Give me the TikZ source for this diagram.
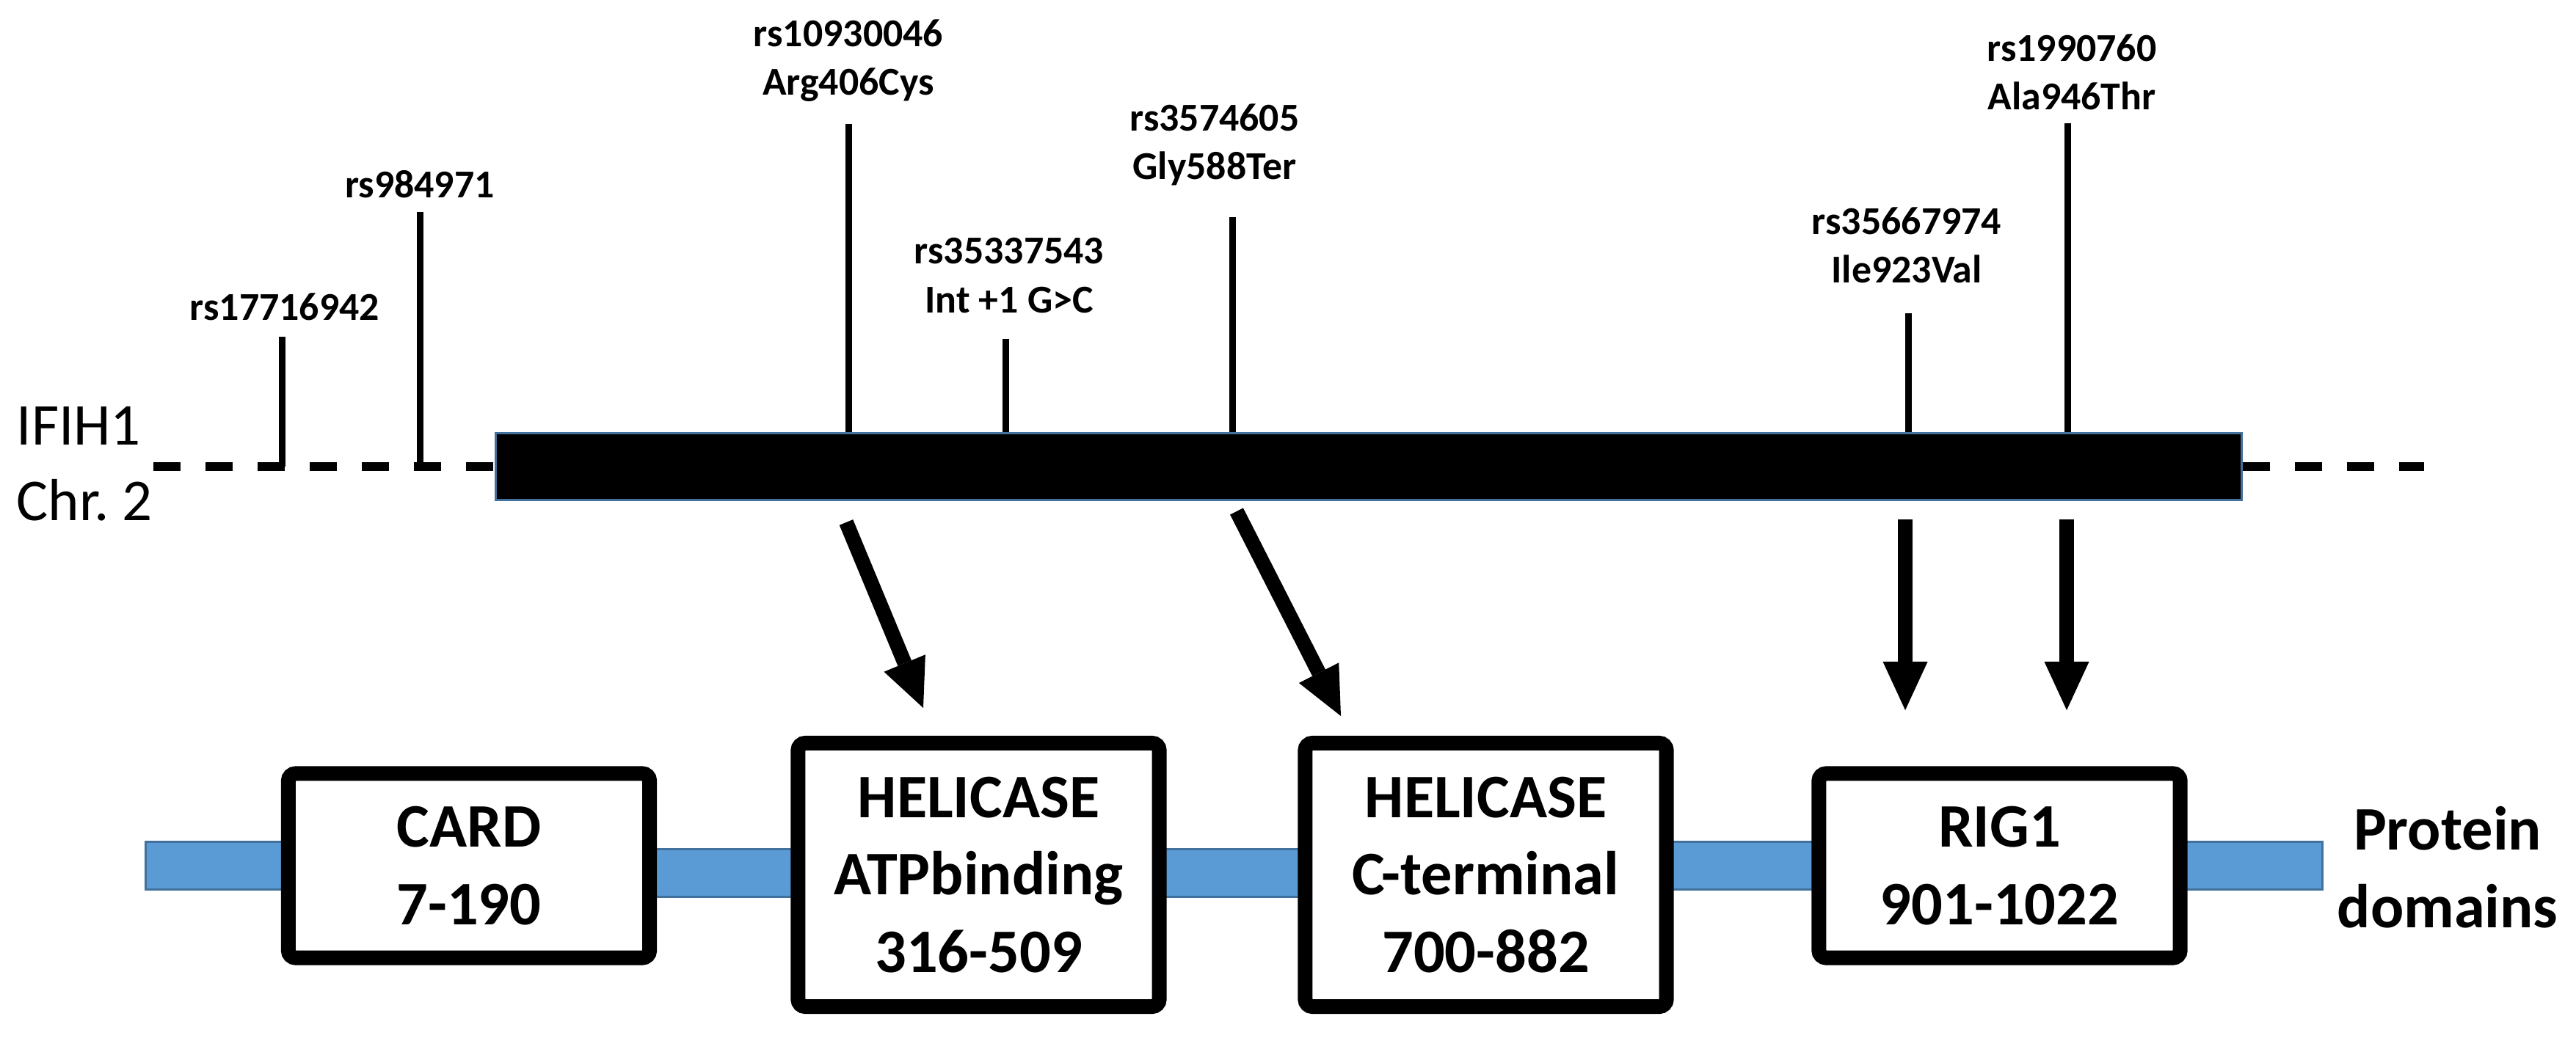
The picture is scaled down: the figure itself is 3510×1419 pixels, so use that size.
\documentclass[tikz,border=0pt]{standalone}
\usepackage{fontspec}
\setmainfont{Carlito}
\usepackage{tikz}
\usetikzlibrary{arrows.meta}

\definecolor{linkblue}{HTML}{5B9BD5}
\definecolor{linkedge}{HTML}{41719C}
\newcommand{\snpfont}{\fontsize{15.3}{18.8}\selectfont\bfseries}
\newcommand{\domfont}{\fontsize{24}{30}\selectfont\bfseries}
\newcommand{\chrfont}{\fontsize{23}{29.3}\selectfont}

\begin{document}
\begin{tikzpicture}[x=0.01cm, y=-0.01cm,
	gene/.style={fill=black, draw=linkedge, line width=0.03cm, minimum width=23.77cm, minimum height=0.91cm, inner sep=0},
	chrom/.style={line width=0.11cm, dash pattern=on 0.37cm off 0.34cm},
	snptick/.style={line width=0.09cm},
	snp/.style={font=\snpfont, align=center, anchor=north, inner sep=0},
	linker/.style={fill=linkblue, draw=linkedge, line width=0.03cm},
	dombox/.style={draw, fill=white, line width=0.2cm, rounded corners=0.1cm, minimum width=4.92cm, minimum height=2.51cm, align=center, font=\domfont, inner sep=0},
	tall/.style={minimum height=3.59cm},
	hit/.style={line width=0.2cm, -{Triangle[length=0.66cm, width=0.61cm, line width=0pt]}}]

	\useasboundingbox (0,0) rectangle (3510,1419);

	% gene on the chromosome
	\node[gene] (gene) at (1865,636) {};
	\coordinate (chrL) at (209,636);
	\coordinate (chrR) at (3303,636);
	\draw[chrom] (chrL) -- (gene.west);
	\draw[chrom] (gene.east) -- (chrR);
	\node[font=\chrfont, align=left, anchor=north west, inner sep=0] (chr) at (22,554) {IFIH1\\Chr.\ 2};

	% SNPs: name / tick x / tick top / label x / label top / text / tick end
	\foreach \nm/\px/\py/\lx/\ly/\txt/\endat in {
		s1/384/459/388/399/{rs17716942}/chrL,
		s2/572/289/572/232/{rs984971}/chrL,
		s3/1156/169/1156/26/{rs10930046\\Arg406Cys}/gene.north,
		s4/1370/462/1375/324/{rs35337543\\Int +1 G>C}/gene.north,
		s5/1679/296/1655/141/{rs3574605\\Gly588Ter}/gene.north,
		s6/2600/427/2598/282/{rs35667974\\Ile923Val}/gene.north,
		s7/2817/168/2823/46/{rs1990760\\Ala946Thr}/gene.north}{
		\node[snp] (\nm) at (\lx,\ly) {\txt};
		\coordinate (\nm-top) at (\px,\py);
		\draw[snptick] (\nm-top) -- (\nm-top |- \endat);
	}

	% protein
	\foreach \xa/\xb/\yt in {198/400/1147, 880/1095/1157, 1575/1785/1157, 2265/2485/1147, 2965/3164/1147}
		\draw[linker] (\xa,\yt) rectangle (\xb,\yt+65);

	\node[dombox] (card) at (639,1180) {CARD\\7-190};
	\node[dombox, tall] (atp) at (1333.5,1192.5) {HELICASE\\ATPbinding\\316-509};
	\node[dombox, tall] (cterm) at (2024.5,1192.5) {HELICASE\\C-terminal\\700-882};
	\node[dombox] (rig) at (2724.5,1180) {RIG1\\901-1022};
	\node[font=\domfont, align=center, anchor=north, inner sep=0] (prot) at (3335,1099) {Protein\\domains};

	% SNP -> domain
	\coordinate (s3-out) at (1153,712);
	\coordinate (atp-in) at (1258,965);
	\coordinate (s5-out) at (1685,697);
	\coordinate (cterm-in) at (1827,976);
	\coordinate (s6-out) at (2596,708);
	\coordinate (rig-in1) at (2596,968);
	\coordinate (s7-out) at (2816,708);
	\coordinate (rig-in2) at (2816,968);
	\draw[hit] (s3-out) -- (atp-in);
	\draw[hit] (s5-out) -- (cterm-in);
	\draw[hit] (s6-out) -- (rig-in1);
	\draw[hit] (s7-out) -- (rig-in2);
\end{tikzpicture}
\end{document}
